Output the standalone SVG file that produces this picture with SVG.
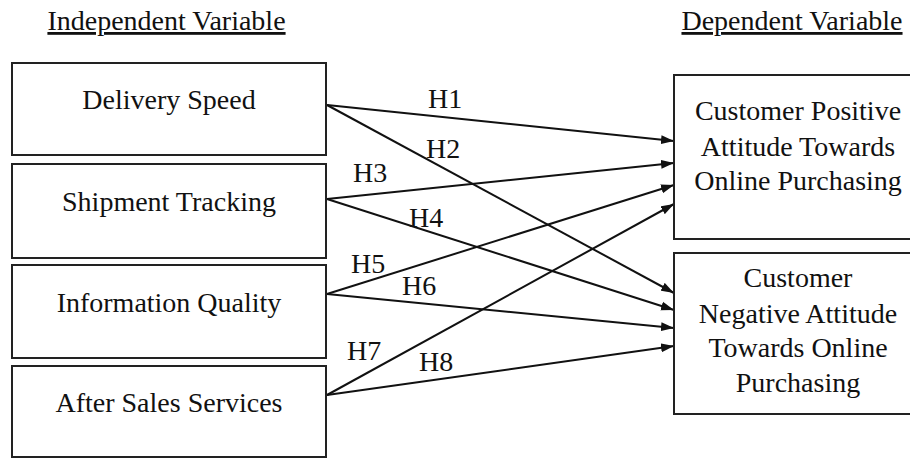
<svg xmlns="http://www.w3.org/2000/svg" width="910" height="459" viewBox="0 0 910 459">
<style>
text{font-family:"Liberation Serif","Times New Roman",serif;font-size:28px;fill:#111}
.c{text-anchor:middle}
.box{fill:#fff;stroke:#222;stroke-width:2}
.ln{stroke:#111;stroke-width:2;fill:none;marker-end:url(#ah)}
.u{text-decoration:underline}
</style>
<defs>
<marker id="ah" markerUnits="userSpaceOnUse" markerWidth="14" markerHeight="10" refX="13" refY="5" orient="auto">
<path d="M0,0.5 L13,5 L0,9.5 z" fill="#111"/>
</marker>
</defs>
<rect width="910" height="459" fill="#fff"/>
<g id="titles">
<text class="c u" x="166.5" y="30">Independent Variable</text>
<text class="c u" x="792" y="30">Dependent Variable</text>
</g>
<g id="connectors">
<line class="ln" x1="327" y1="105" x2="674" y2="141"/>
<line class="ln" x1="327" y1="105" x2="674" y2="293"/>
<line class="ln" x1="327" y1="199" x2="674" y2="163"/>
<line class="ln" x1="327" y1="199" x2="674" y2="310"/>
<line class="ln" x1="327" y1="294" x2="674" y2="185"/>
<line class="ln" x1="327" y1="294" x2="674" y2="328"/>
<line class="ln" x1="327" y1="395" x2="674" y2="204"/>
<line class="ln" x1="327" y1="395" x2="674" y2="346"/>
<text x="428" y="108">H1</text>
<text x="426" y="158">H2</text>
<text x="353" y="182">H3</text>
<text x="409" y="227">H4</text>
<text x="351" y="273">H5</text>
<text x="402" y="295">H6</text>
<text x="347" y="360">H7</text>
<text x="419" y="371">H8</text>
</g>
<g id="delivery-speed">
<rect class="box" x="12" y="63" width="314" height="92"/>
<text class="c" x="169" y="109">Delivery Speed</text>
</g>
<g id="shipment-tracking">
<rect class="box" x="12" y="164" width="314" height="94"/>
<text class="c" x="169" y="211">Shipment Tracking</text>
</g>
<g id="information-quality">
<rect class="box" x="12" y="265" width="314" height="93"/>
<text class="c" x="169" y="312">Information Quality</text>
</g>
<g id="after-sales-services">
<rect class="box" x="12" y="366" width="314" height="91"/>
<text class="c" x="169" y="412">After Sales Services</text>
</g>
<g id="positive-attitude">
<rect class="box" x="674" y="75" width="250" height="164"/>
<text class="c" x="798" y="120">Customer Positive</text>
<text class="c" x="798" y="156">Attitude Towards</text>
<text class="c" x="798" y="190">Online Purchasing</text>
</g>
<g id="negative-attitude">
<rect class="box" x="674" y="253" width="250" height="161"/>
<text class="c" x="798" y="287">Customer</text>
<text class="c" x="798" y="323">Negative Attitude</text>
<text class="c" x="798" y="357">Towards Online</text>
<text class="c" x="798" y="392">Purchasing</text>
</g>
</svg>
